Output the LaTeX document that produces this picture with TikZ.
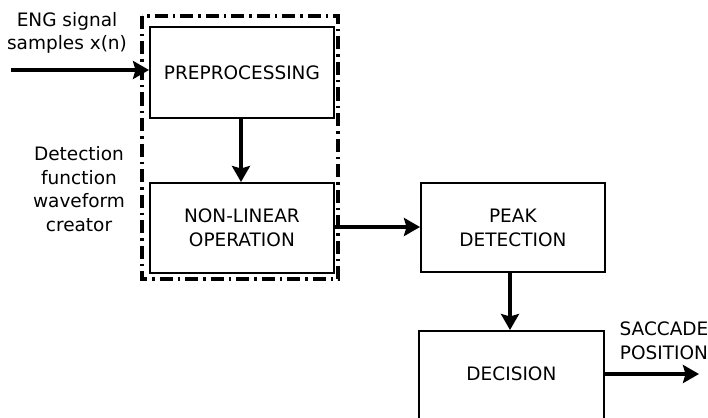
\documentclass[tikz,border=0pt]{standalone}
\usepackage{fontspec}
\setmainfont{DejaVu Sans}
\usetikzlibrary{arrows.meta}
\begin{document}
\begin{tikzpicture}[x=1pt,y=-1pt,
  block/.style={draw, line width=1.8pt, anchor=north west, inner sep=0pt,
                align=center, font=\fontsize{18.5}{24}\selectfont},
  flow/.style={line width=3.6pt, -{Stealth[length=16pt,width=18pt,inset=2.5pt]}},
  label/.style={align=center, font=\fontsize{18.5}{23.5}\selectfont, inner sep=0pt},
  group/.style={line width=3.8pt, dash pattern=on 13pt off 5pt on 2.5pt off 5pt}]
  \useasboundingbox (0,0) rectangle (708,417);
  \begin{scope}
    \clip (0,0) rectangle (708,417);
    % dash-dot frame around the waveform creator stage
    \draw[group] (142,16) rectangle (338,279);
    % processing blocks
    \node[block, minimum width=184pt, minimum height=91pt] (pre) at (149,26) {PREPROCESSING};
    \node[block, minimum width=184pt, minimum height=90pt] (nlo) at (149,182) {NON-LINEAR\\OPERATION};
    \node[block, minimum width=184pt, minimum height=89pt] (peak) at (420,182) {PEAK\\DETECTION};
    \node[block, minimum width=185pt, minimum height=120pt] (dec) at (418,330) {};
    \node[font=\fontsize{18.5}{24}\selectfont] (dect) at (dec.center |- 0,374) {DECISION};
    % free ends of the input and output connectors
    \coordinate (in) at (11,70);
    \coordinate (out) at (699,374);
    % connectors
    \draw[flow] (in) -- (pre.west |- in);
    \draw[flow] (pre.south -| 241,0) -- (nlo.north -| 241,0);
    \draw[flow] (nlo.east |- 0,227) -- (peak.west |- 0,227);
    \draw[flow] (peak.south -| 510,0) -- (dec.north -| 510,0);
    \draw[flow] (dec.east |- out) -- (out);
    % labels
    \node[label] (inlab) at (67,33) {ENG signal\\samples x(n)};
    \node[label] (grplab) at (79,189) {Detection\\function\\waveform\\creator};
    \node[label] (outlab) at (664,341) {SACCADE\\POSITION};
  \end{scope}
\end{tikzpicture}
\end{document}
